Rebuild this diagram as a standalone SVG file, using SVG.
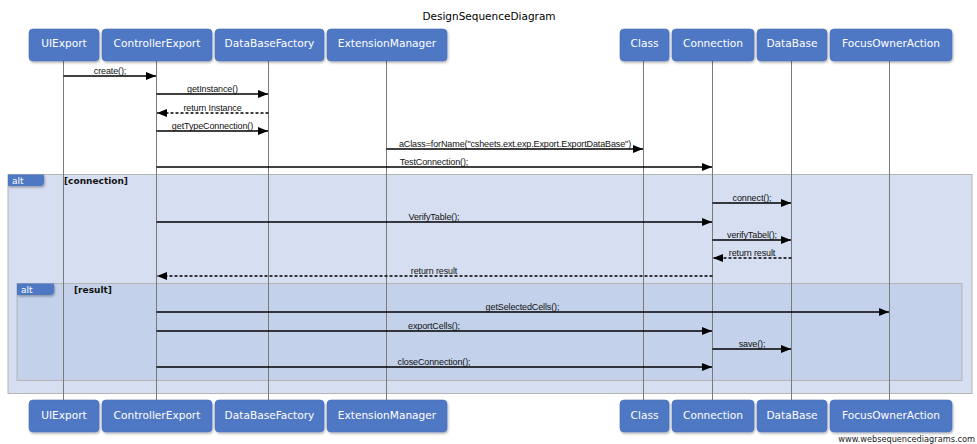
<svg xmlns="http://www.w3.org/2000/svg" width="977" height="444" viewBox="0 0 977 444">
  <defs>
    <marker id="head" viewBox="0 0 10 8" refX="10" refY="4" markerWidth="10" markerHeight="8" markerUnits="userSpaceOnUse" orient="auto">
      <path d="M0,0 L10,4 L0,8 Z" fill="#000"/>
    </marker>
    <filter id="shadow" x="-10%" y="-10%" width="130%" height="140%">
      <feDropShadow dx="1" dy="1.5" stdDeviation="1" flood-color="#000" flood-opacity="0.3"/>
    </filter>
  </defs>
  <style>
    .title { font-family: "DejaVu Sans", sans-serif; font-size: 10.5px; fill: #000; text-anchor: middle; }
    .box { fill: #4f78c4; stroke: #4a6fb5; stroke-width: 0.6; filter: url(#shadow); }
    .name { font-family: "DejaVu Sans", sans-serif; font-size: 10.6px; fill: #fff; text-anchor: middle; }
    .life { stroke: #7a7a7a; stroke-width: 1; }
    .msg { stroke: #000; stroke-width: 1.3; fill: none; marker-end: url(#head); }
    .ret { stroke-dasharray: 3 2; }
    .lbl { font-family: "Liberation Sans", sans-serif; font-size: 9px; fill: #111; text-anchor: middle; letter-spacing: -0.12px; }
    .frame1 { fill: #d6dff1; stroke: #b4b4b4; stroke-width: 1; }
    .frame2 { fill: #c3d1ea; stroke: #b4b4b4; stroke-width: 1; }
    .tag { fill: #4f78c4; filter: url(#shadow); }
    .tagtxt { font-family: "DejaVu Sans", sans-serif; font-size: 9px; fill: #fff; }
    .guard { font-family: "DejaVu Sans", sans-serif; font-size: 9px; font-weight: bold; fill: #111; }
    .mark { font-family: "DejaVu Sans", sans-serif; font-size: 8.2px; fill: #222; text-anchor: end; }
  </style>

  <rect width="977" height="444" fill="#fff"/>
  <text class="title" x="489" y="20">DesignSequenceDiagram</text>

  <!-- alt fragments -->
  <g id="alt-connection">
    <rect class="frame1" x="8" y="174.5" width="964" height="219"/>
    <path class="tag" d="M8,174.5 H44 V182 Q44,186 40,186 H8 Z"/>
    <text class="tagtxt" x="12" y="184">alt</text>
    <text class="guard" x="64" y="184">[connection]</text>
  </g>
  <g id="alt-result">
    <rect class="frame2" x="17" y="283.5" width="945" height="97"/>
    <path class="tag" d="M17,283.5 H54 V291 Q54,295 50,295 H17 Z"/>
    <text class="tagtxt" x="21" y="293">alt</text>
    <text class="guard" x="74" y="293" font-weight="normal">[result]</text>
  </g>

  <!-- lifelines -->
  <g id="lifelines">
    <line class="life" x1="63.5" y1="61" x2="63.5" y2="400"/>
    <line class="life" x1="156.5" y1="61" x2="156.5" y2="400"/>
    <line class="life" x1="268.5" y1="61" x2="268.5" y2="400"/>
    <line class="life" x1="386.5" y1="61" x2="386.5" y2="400"/>
    <line class="life" x1="643.5" y1="61" x2="643.5" y2="400"/>
    <line class="life" x1="712.5" y1="61" x2="712.5" y2="400"/>
    <line class="life" x1="791.5" y1="61" x2="791.5" y2="400"/>
    <line class="life" x1="889.5" y1="61" x2="889.5" y2="400"/>
  </g>

  <!-- participants (top and bottom) -->
  <g id="UIExport">
    <rect class="box" x="29" y="29" width="70" height="32" rx="4"/>
    <text class="name" x="64" y="47">UIExport</text>
    <rect class="box" x="29" y="400" width="70" height="32" rx="4"/>
    <text class="name" x="64" y="418.5">UIExport</text>
  </g>
  <g id="ControllerExport">
    <rect class="box" x="102" y="29" width="110" height="32" rx="4"/>
    <text class="name" x="157" y="47">ControllerExport</text>
    <rect class="box" x="102" y="400" width="110" height="32" rx="4"/>
    <text class="name" x="157" y="418.5">ControllerExport</text>
  </g>
  <g id="DataBaseFactory">
    <rect class="box" x="215" y="29" width="109" height="32" rx="4"/>
    <text class="name" x="269.5" y="47">DataBaseFactory</text>
    <rect class="box" x="215" y="400" width="109" height="32" rx="4"/>
    <text class="name" x="269.5" y="418.5">DataBaseFactory</text>
  </g>
  <g id="ExtensionManager">
    <rect class="box" x="327" y="29" width="120" height="32" rx="4"/>
    <text class="name" x="387" y="47">ExtensionManager</text>
    <rect class="box" x="327" y="400" width="120" height="32" rx="4"/>
    <text class="name" x="387" y="418.5">ExtensionManager</text>
  </g>
  <g id="Class">
    <rect class="box" x="620" y="29" width="49" height="32" rx="4"/>
    <text class="name" x="644.5" y="47">Class</text>
    <rect class="box" x="620" y="400" width="49" height="32" rx="4"/>
    <text class="name" x="644.5" y="418.5">Class</text>
  </g>
  <g id="Connection">
    <rect class="box" x="672" y="29" width="82" height="32" rx="4"/>
    <text class="name" x="713" y="47">Connection</text>
    <rect class="box" x="672" y="400" width="82" height="32" rx="4"/>
    <text class="name" x="713" y="418.5">Connection</text>
  </g>
  <g id="DataBase">
    <rect class="box" x="757" y="29" width="70" height="32" rx="4"/>
    <text class="name" x="792" y="47">DataBase</text>
    <rect class="box" x="757" y="400" width="70" height="32" rx="4"/>
    <text class="name" x="792" y="418.5">DataBase</text>
  </g>
  <g id="FocusOwnerAction">
    <rect class="box" x="830" y="29" width="122" height="32" rx="4"/>
    <text class="name" x="891" y="47">FocusOwnerAction</text>
    <rect class="box" x="830" y="400" width="122" height="32" rx="4"/>
    <text class="name" x="891" y="418.5">FocusOwnerAction</text>
  </g>

  <!-- messages -->
  <g id="connectors">
    <line class="msg" x1="63.5" y1="76" x2="156" y2="76"/>
    <text class="lbl" x="110" y="74">create();</text>

    <line class="msg" x1="156.5" y1="94" x2="268" y2="94"/>
    <text class="lbl" x="212.5" y="92">getInstance()</text>

    <line class="msg ret" x1="268.5" y1="113" x2="157" y2="113"/>
    <text class="lbl" x="212.5" y="111">return Instance</text>

    <line class="msg" x1="156.5" y1="131" x2="268" y2="131"/>
    <text class="lbl" x="212.5" y="129">getTypeConnection()</text>

    <line class="msg" x1="386.5" y1="149" x2="643" y2="149"/>
    <text class="lbl" x="515" y="147">aClass=forName("csheets.ext.exp.Export.ExportDataBase")</text>

    <line class="msg" x1="156.5" y1="167" x2="712" y2="167"/>
    <text class="lbl" x="434" y="165">TestConnection();</text>

    <line class="msg" x1="712.5" y1="203" x2="791" y2="203"/>
    <text class="lbl" x="752" y="201">connect();</text>

    <line class="msg" x1="156.5" y1="222" x2="712" y2="222"/>
    <text class="lbl" x="434" y="220">VerifyTable();</text>

    <line class="msg" x1="712.5" y1="240" x2="791" y2="240"/>
    <text class="lbl" x="752" y="238">verifyTabel();</text>

    <line class="msg ret" x1="791.5" y1="258" x2="713" y2="258"/>
    <text class="lbl" x="752" y="256">return result</text>

    <line class="msg ret" x1="712.5" y1="276" x2="157" y2="276"/>
    <text class="lbl" x="434" y="274">return result</text>

    <line class="msg" x1="156.5" y1="312" x2="889" y2="312"/>
    <text class="lbl" x="522.5" y="310">getSelectedCells();</text>

    <line class="msg" x1="156.5" y1="331" x2="712" y2="331"/>
    <text class="lbl" x="434" y="329">exportCells();</text>

    <line class="msg" x1="712.5" y1="349" x2="791" y2="349"/>
    <text class="lbl" x="752" y="347">save();</text>

    <line class="msg" x1="156.5" y1="367" x2="712" y2="367"/>
    <text class="lbl" x="434" y="365">closeConnection();</text>
  </g>

  <text class="mark" x="975" y="442">www.websequencediagrams.com</text>
</svg>
